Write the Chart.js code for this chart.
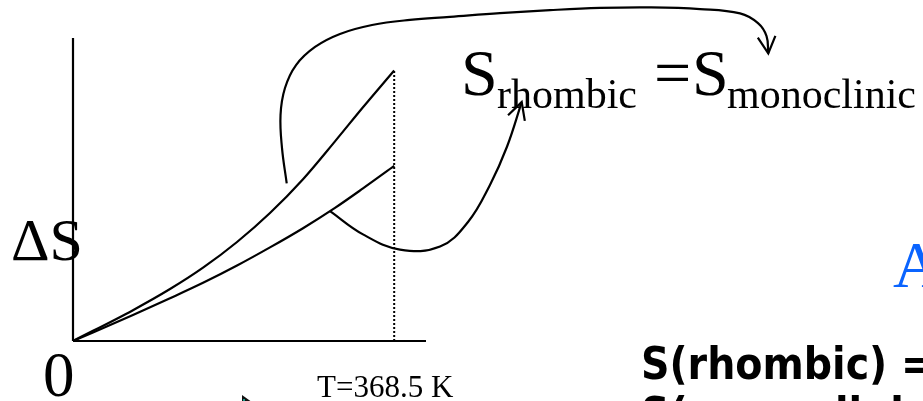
<!DOCTYPE html>
<html>
<head>
    <title>Entropy of sulfur: rhombic vs monoclinic</title>
    <style>
        html, body {
            margin: 0;
            padding: 0;
            background-color: #fff;
        }

        #chartBox {
            width: 923px;
            height: 401px;
        }
    </style>
    <script src="https://cdn.jsdelivr.net/npm/chart.js"></script>
</head>
<body>
    <div id="chartBox">
        <canvas id="entropyChart" width="923" height="401"></canvas>
    </div>

    <script>
        // temperature (K) and entropy (arbitrary units)
        var curveT = [0, 68.8, 111.3, 149.2, 188.2, 226.0, 263.9, 300.6, 332.7, 368.5];
        var upperS = [0, 1.14, 1.92, 2.71, 3.66, 4.73, 5.98, 7.38, 8.64, 10.0];
        var lowerS = [0, 0.96, 1.58, 2.15, 2.79, 3.46, 4.17, 4.92, 5.64, 6.47];
        var transitionT = 368.5;
        var transitionS = [0, 10.0];

        // axis lines
        var axisTmax = 405;
        var axisSmax = 11.2;

        // curved pointer from upper curve to "S monoclinic"
        var pointerOneT = [245.2, 239.8, 238.1, 243.2, 255.9, 277.7, 306.3, 343.1, 386.6, 432.5, 489.9, 547.3, 604.6, 662.0, 719.4, 765.3, 785.9, 795.7, 797.7];
        var pointerOneS = [5.83, 7.13, 8.35, 9.35, 10.20, 10.87, 11.35, 11.68, 11.87, 11.98, 12.12, 12.23, 12.31, 12.33, 12.27, 12.11, 11.75, 11.27, 10.63];

        // curved pointer from lower curve to "S rhombic"
        var pointerTwoT = [294.9, 332.7, 375.2, 421.1, 453.2, 478.4, 497.9, 514.8];
        var pointerTwoS = [4.80, 3.94, 3.38, 3.49, 4.40, 5.77, 7.18, 8.83];

        function toPoints(xs, ys) {
            return xs.map(function(x, i) { return { x: x, y: ys[i] }; });
        }

        // the plot box sits at 73..426 x 38..341 px of the canvas; the scales
        // span the whole canvas so the pointers can run outside that box
        var boxLeft = 73, boxRight = 426, boxTop = 38, boxBottom = 341;
        var pxPerK = (boxRight - boxLeft) / axisTmax;
        var pxPerS = (boxBottom - boxTop) / axisSmax;
        var canvasW = 923, canvasH = 401;

        var serif = "'Liberation Serif', 'Times New Roman', serif";

        var whiteBackground = {
            id: "whiteBackground",
            beforeDraw: function(chart) {
                var ctx = chart.ctx;
                ctx.save();
                ctx.fillStyle = "#fff";
                ctx.fillRect(0, 0, chart.width, chart.height);
                ctx.restore();
            }
        };

        var arrowHeads = {
            id: "arrowHeads",
            afterDatasetsDraw: function(chart) {
                var ctx = chart.ctx;
                chart.data.datasets.forEach(function(ds, i) {
                    if (!ds.arrowHead) return;
                    var pts = chart.getDatasetMeta(i).data;
                    var tip = pts[pts.length - 1];
                    var prev = pts[pts.length - 2];
                    var ang = Math.atan2(tip.y - prev.y, tip.x - prev.x);
                    var len = 19, spread = Math.PI / 6.5;
                    ctx.save();
                    ctx.strokeStyle = "#000";
                    ctx.lineWidth = 2.2;
                    ctx.beginPath();
                    ctx.moveTo(tip.x - len * Math.cos(ang - spread), tip.y - len * Math.sin(ang - spread));
                    ctx.lineTo(tip.x, tip.y);
                    ctx.lineTo(tip.x - len * Math.cos(ang + spread), tip.y - len * Math.sin(ang + spread));
                    ctx.stroke();
                    ctx.restore();
                });
            }
        };

        var slideText = {
            id: "slideText",
            afterDraw: function(chart) {
                var ctx = chart.ctx;
                var xs = chart.scales.x;
                ctx.save();
                ctx.fillStyle = "#000";
                ctx.textBaseline = "alphabetic";

                ctx.font = "60px " + serif;
                ctx.fillText("\u0394S", 11, 260);

                ctx.font = "63px " + serif;
                ctx.fillText("0", xs.getPixelForValue(0) - 30, 396);

                ctx.font = "31px " + serif;
                ctx.fillText("T=368.5 K", 317, 397);

                // S_rhombic = S_monoclinic
                ctx.font = "66px " + serif;
                ctx.fillText("S", 461, 95);
                ctx.fillText("=", 654, 95);
                ctx.fillText("S", 692, 95);
                ctx.font = "42px " + serif;
                ctx.fillText("rhombic", 497, 108);
                ctx.fillText("monoclinic", 727, 108);

                ctx.fillStyle = "#0a64ff";
                ctx.font = "66px " + serif;
                ctx.fillText("A", 893, 287);

                ctx.fillStyle = "#000";
                ctx.font = "bold 44px 'DejaVu Sans Condensed', 'DejaVu Sans', sans-serif";
                ctx.fillText("S(rhombic) =", 641, 379);
                ctx.fillText("S(monoclinic)", 641, 429);

                // bullet peeking in at the bottom
                ctx.fillStyle = "#111";
                ctx.beginPath();
                ctx.moveTo(242, 395);
                ctx.lineTo(256, 405);
                ctx.lineTo(242, 415);
                ctx.closePath();
                ctx.fill();
                ctx.fillStyle = "#1a9a8a";
                ctx.fillRect(243, 399, 2, 2);
                ctx.restore();
            }
        };

        var lineStyle = {
            showLine: true,
            borderColor: "#000",
            borderWidth: 2.2,
            pointRadius: 0,
            fill: false,
            clip: false
        };

        var datasets = [
            Object.assign({ label: "T axis", data: toPoints([0, axisTmax], [0, 0]), tension: 0 }, lineStyle),
            Object.assign({ label: "S axis", data: toPoints([0, 0], [0, axisSmax]), tension: 0 }, lineStyle),
            Object.assign({ label: "upper", data: toPoints(curveT, upperS), cubicInterpolationMode: "monotone" }, lineStyle),
            Object.assign({ label: "lower", data: toPoints(curveT, lowerS), cubicInterpolationMode: "monotone" }, lineStyle),
            Object.assign({ label: "transition", data: toPoints([transitionT, transitionT], transitionS), tension: 0 }, lineStyle, { borderWidth: 2, borderDash: [2, 2] }),
            Object.assign({ label: "pointer 1", data: toPoints(pointerOneT, pointerOneS), tension: 0.4, arrowHead: true }, lineStyle),
            Object.assign({ label: "pointer 2", data: toPoints(pointerTwoT, pointerTwoS), tension: 0.4, arrowHead: true }, lineStyle)
        ];

        new Chart(document.getElementById("entropyChart"), {
            type: "scatter",
            data: { datasets: datasets },
            options: {
                responsive: false,
                animation: false,
                devicePixelRatio: 1,
                layout: { padding: 0 },
                scales: {
                    x: {
                        type: "linear", display: false,
                        min: -boxLeft / pxPerK,
                        max: (canvasW - boxLeft) / pxPerK
                    },
                    y: {
                        type: "linear", display: false,
                        min: -(canvasH - boxBottom) / pxPerS,
                        max: boxBottom / pxPerS
                    }
                },
                plugins: {
                    legend: { display: false },
                    tooltip: { enabled: false }
                }
            },
            plugins: [whiteBackground, arrowHeads, slideText]
        });
    </script>
</body>
</html>
